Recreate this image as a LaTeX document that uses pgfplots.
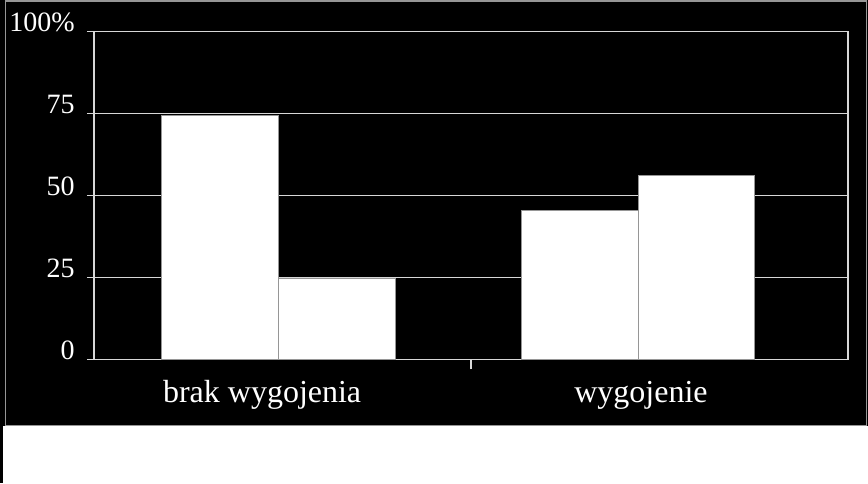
\documentclass[border=0pt]{standalone}
\usepackage{pgfplots}
\pgfplotsset{compat=1.18}
\usepackage{fontspec}
\setmainfont{Liberation Serif}

\definecolor{gridc}{RGB}{215,215,215}
\definecolor{edgec}{RGB}{150,150,150}

\begin{document}
\begin{tikzpicture}[x=1pt,y=1pt]
  % page: 1px = 0.5pt
  \path[use as bounding box] (0,0) rectangle (434,241.5);
  \fill[black] (0,28.5) rectangle (434,241.5);
  \fill[black] (0,0) rectangle (1.6,241.5);
  \draw[edgec, line width=0.7pt] (2.6,28.9) rectangle (433.2,241.0);

\begin{axis}[
    at={(47pt,61.85pt)},
    anchor=south west,
    scale only axis,
    width=377pt,
    height=164pt,
    xmin=-0.5, xmax=1.5,
    ymin=0, ymax=100,
    axis line style={draw=gridc, line width=0.7pt},
    tick pos=left,
    tick align=outside,
    major tick length=3.5pt,
    tick style={draw=gridc, line width=0.7pt},
    ytick={0,25,50,75,100},
    yticklabels={0,25,50,75,100\%},
    ymajorgrids,
    major grid style={draw=gridc, line width=0.7pt},
    xtick={-0.054,0.951},
    xticklabels={brak wygojenia,wygojenie},
    x tick style={draw=none},
    extra x ticks={0.5},
    extra x tick labels={},
    extra x tick style={
      x tick style={draw=gridc, line width=0.7pt},
      major tick length=5pt,
      grid=none,
    },
    /pgf/number format/assume math mode=true,
    tick label style={text=white},
    yticklabel style={font=\fontsize{14}{16}\selectfont, anchor=base east, inner sep=0pt, xshift=-6pt},
    xticklabel style={font=\fontsize{16}{18}\selectfont, anchor=base, inner sep=0pt, yshift=-18pt},
    ybar,
    bar shift=0pt,
    bar width=0.31,
]

  % first bar of each group
  \addplot[fill=white, draw=edgec, line width=0.5pt]
    coordinates {(-0.166,74.2) (0.788,45.5)};

  % second bar of each group
  \addplot[fill=white, draw=edgec, line width=0.5pt]
    coordinates {(0.144,24.7) (1.098,56.0)};

\end{axis}
\end{tikzpicture}
\end{document}
